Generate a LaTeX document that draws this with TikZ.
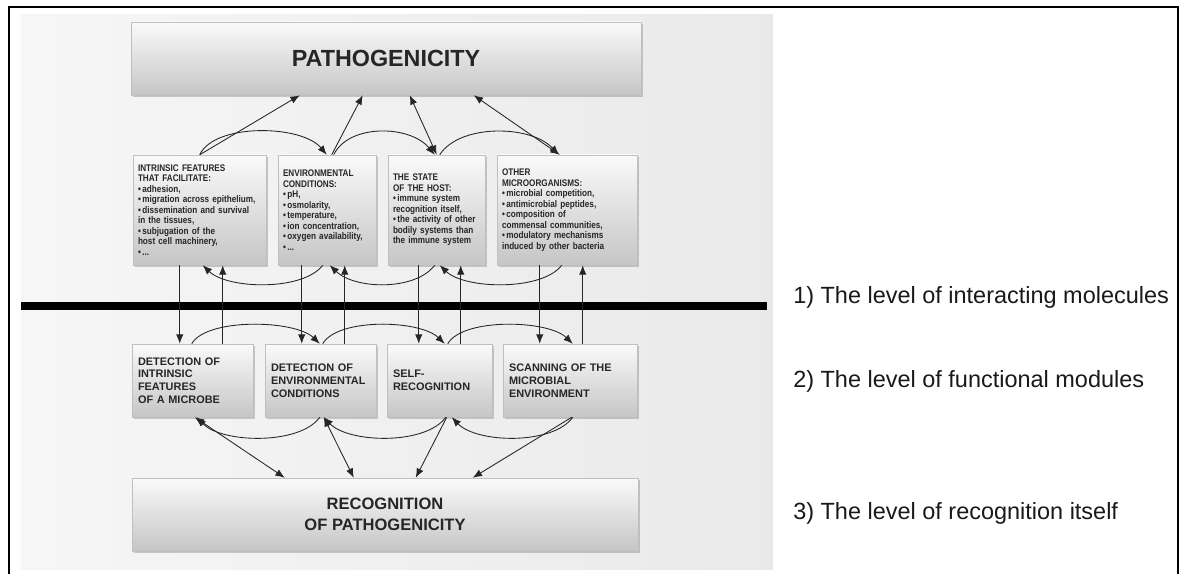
\documentclass[tikz,border=0pt]{standalone}
\usepackage{fontspec}
\setmainfont{Liberation Sans}
\newfontfamily\narrowfont[FakeStretch=0.85]{Liberation Sans}
\usetikzlibrary{arrows.meta,calc,shadows}

\tikzset{
  box/.style={draw=gray!50, line width=0.4pt, top color=gray!4, middle color=gray!17, bottom color=gray!45,
    drop shadow={shadow xshift=1.3pt, shadow yshift=-1.3pt, opacity=0.4},
    align=left, text=black!85, inner ysep=0pt},
  topbox/.style={box, inner xsep=3.75pt, minimum height=82.5pt, font=\narrowfont\bfseries\fontsize{7.2}{7.9}\selectfont},
  lowbox/.style={box, inner xsep=4.5pt, minimum height=54.75pt, font=\bfseries\fontsize{8.2}{9.6}\selectfont},
  bigbox/.style={box, align=center, minimum width=#1, minimum height=54.75pt},
  arr/.style={-{Latex[length=7pt,width=5.5pt]}, line width=0.65pt, black!85},
  darr/.style={{Latex[length=7pt,width=5.5pt]}-{Latex[length=7pt,width=5.5pt]}, line width=0.65pt, black!85},
  level/.style={anchor=west, font=\fontsize{17.6}{21}\selectfont, text=black!90, inner sep=0pt}
}

\begin{document}
\begin{tikzpicture}[x=0.75pt,y=-0.75pt]
\useasboundingbox (0,0) rectangle (1190,574);
\fill[left color=gray!7, right color=gray!17] (21,15) rectangle (773,569);
\draw[line width=1.1pt] (9,574) -- (9,7) -- (1178,7) -- (1178,574);
\fill[black] (21,302) rectangle (767,310);

\node[bigbox=382.5pt, font=\bfseries\fontsize{17.5}{21}\selectfont] (patho) at (386,58.5) {PATHOGENICITY};

\node[topbox, text width=92.25pt] (intr) at (199.5,210) {INTRINSIC FEATURES\\THAT FACILITATE:\\
  •\,adhesion,\\•\,migration across epithelium,\\•\,dissemination and survival\\in the tissues,\\
  •\,subjugation of the\\host cell machinery,\\•\,...};
\node[topbox, text width=66pt] (envi) at (327,210) {ENVIRONMENTAL\\CONDITIONS:\\•\,pH,\\•\,osmolarity,\\
  •\,temperature,\\•\,ion concentration,\\•\,oxygen availability,\\•\,...};
\node[topbox, text width=65.25pt] (host) at (436.5,210) {THE STATE\\OF THE HOST:\\•\,immune system\\
  recognition itself,\\•\,the activity of other\\bodily systems than\\the immune system};
\node[topbox, text width=97.5pt] (micro) at (567,210) {OTHER\\MICROORGANISMS:\\•\,microbial competition,\\
  •\,antimicrobial peptides,\\•\,composition of\\commensal communities,\\•\,modulatory mechanisms\\
  induced by other bacteria};

\node[lowbox, text width=81.75pt] (detintr) at (192.5,380.5) {DETECTION OF\\INTRINSIC\\FEATURES\\OF A MICROBE};
\node[lowbox, text width=74.25pt] (detenv) at (320.5,380.5) {DETECTION OF\\ENVIRONMENTAL\\CONDITIONS};
\node[lowbox, text width=69.75pt] (selfrec) at (439.5,380.5) {SELF-\\RECOGNITION};
\node[lowbox, text width=91.5pt] (scan) at (570,380.5) {SCANNING OF THE\\MICROBIAL\\ENVIRONMENT};

\node[bigbox=379.5pt, font=\bfseries\fontsize{12.4}{15.75}\selectfont] (recog) at (385,514.5) {RECOGNITION\\OF PATHOGENICITY};

\node[level] (lev1) at (793,297) {1) The level of interacting molecules};
\node[level] (lev2) at (793,381) {2) The level of functional modules};
\node[level] (lev3) at (793,513) {3) The level of recognition itself};

\draw[arr] ($(intr.north west)+(67,0)$) -- ($(patho.south west)+(169,0)$);
\draw[arr] ($(envi.north west)+(54,0)$) -- ($(patho.south west)+(232,0)$);
\draw[darr] ($(host.north west)+(49,0)$) -- ($(patho.south west)+(279,0)$);
\draw[darr] ($(micro.north west)+(63,0)$) -- ($(patho.south west)+(343,0)$);

\draw[arr] ($(intr.north west)+(67,0)$) .. controls +(15,-32) and +(-25,-30) .. ($(envi.north west)+(49,0)$);
\draw[arr] ($(envi.north west)+(56,0)$) .. controls +(15,-31) and +(-25,-30) .. ($(host.north west)+(47,0)$);
\draw[arr] ($(host.north west)+(52,0)$) .. controls +(20,-31) and +(-28,-30) .. ($(micro.north west)+(62,0)$);

\draw[arr] ($(envi.south west)+(45,0)$) .. controls +(-20,26) and +(25,24) .. ($(intr.south west)+(70,0)$);
\draw[arr] ($(host.south west)+(47,0)$) .. controls +(-20,26) and +(25,24) .. ($(envi.south west)+(52,0)$);
\draw[arr] ($(micro.south west)+(65,0)$) .. controls +(-20,26) and +(25,24) .. ($(host.south west)+(52,0)$);

\foreach \t/\b/\xd/\xu in {intr/detintr/47/90, envi/detenv/24/67, host/selfrec/31/73, micro/scan/43/86}{
  \coordinate (dn) at ($(\t.south west)+(\xd,0)$);
  \coordinate (upw) at ($(\t.south west)+(\xu,0)$);
  \draw[arr] (dn) -- (dn |- \b.north);
  \draw[arr] (upw |- \b.north) -- (upw);
}

\draw[arr] ($(detintr.north west)+(60,0)$) .. controls +(15,-26) and +(-25,-24) .. ($(detenv.north west)+(55,0)$);
\draw[arr] ($(detenv.north west)+(58,0)$) .. controls +(15,-26) and +(-25,-24) .. ($(selfrec.north west)+(58,0)$);
\draw[arr] ($(selfrec.north west)+(61,0)$) .. controls +(15,-26) and +(-25,-24) .. ($(scan.north west)+(70,0)$);

\draw[arr] ($(detenv.south west)+(55,0)$) .. controls +(-20,28) and +(25,26) .. ($(detintr.south west)+(65,0)$);
\draw[arr] ($(selfrec.south west)+(59,0)$) .. controls +(-20,28) and +(25,26) .. ($(detenv.south west)+(59,0)$);
\draw[arr] ($(scan.south west)+(70,0)$) .. controls +(-20,28) and +(25,26) .. ($(selfrec.south west)+(65,0)$);

\draw[darr] ($(detintr.south west)+(63,0)$) -- ($(recog.north west)+(153,0)$);
\draw[darr] ($(detenv.south west)+(59,0)$) -- ($(recog.north west)+(222,0)$);
\draw[arr] ($(selfrec.south west)+(60,0)$) -- ($(recog.north west)+(284,0)$);
\draw[arr] ($(scan.south west)+(69,0)$) -- ($(recog.north west)+(341,0)$);
\end{tikzpicture}
\end{document}
